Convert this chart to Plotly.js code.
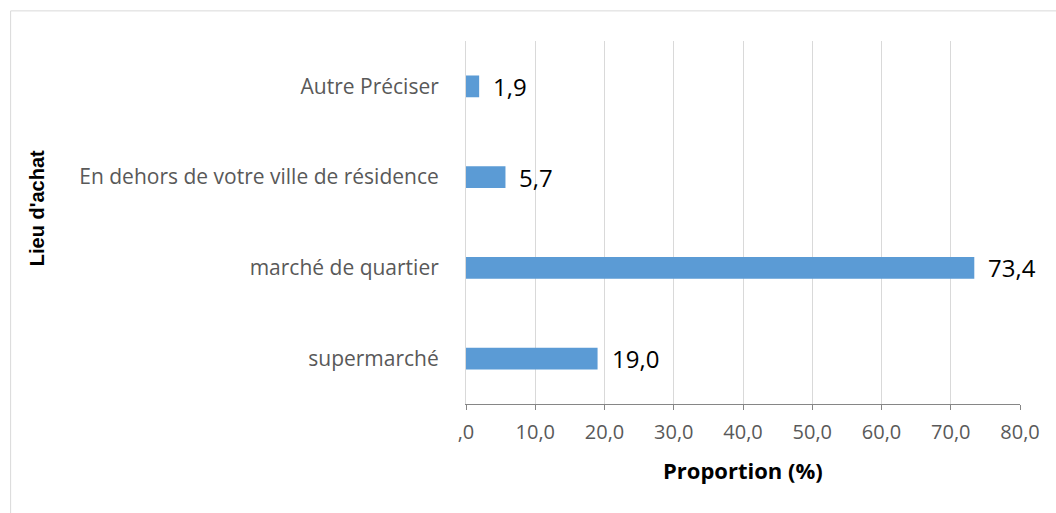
<!DOCTYPE html>
<html>
<head>
<meta charset="utf-8">
<script src="https://cdn.plot.ly/plotly-3.0.1.min.js"></script>
<style>
  body { margin: 0; background: #fff; }
  #myDiv { width: 1056px; height: 513px; }
</style>
</head>
<body>
<div id="myDiv"></div>
<script>
var divId = "myDiv";

// bottom to top, as in the reference
var lieux = ["supermarché", "marché de quartier", "En dehors de votre ville de résidence", "Autre Préciser"];
var proportions = [19.0, 73.4, 5.7, 1.9];
var tickVals = [0, 10, 20, 30, 40, 50, 60, 70, 80];
var tickLabels = [",0", "10,0", "20,0", "30,0", "40,0", "50,0", "60,0", "70,0", "80,0"];

var data = [
  {
    type: "bar",
    orientation: "h",
    y: lieux,
    x: proportions,
    width: 0.24,
    marker: { color: "#5b9bd5" },
    hoverinfo: "x+y"
  }
];

// value labels next to each bar
var labels = lieux.map(function (l, i) {
  return {
    x: proportions[i],
    y: l,
    xref: "x",
    yref: "y",
    text: proportions[i].toFixed(1).replace(".", ","),
    showarrow: false,
    xanchor: "left",
    xshift: 12,
    font: { family: "Open Sans, sans-serif", size: 24, color: "#000" }
  };
});

var layouts = {
  width: 1056,
  height: 513,
  paper_bgcolor: "#fff",
  plot_bgcolor: "#fff",
  showlegend: false,
  margin: { l: 466, r: 36, t: 41, b: 109, pad: 0 },
  font: { family: "Open Sans, sans-serif", color: "#595959" },
  xaxis: {
    range: [0, 80],
    tickvals: tickVals,
    ticktext: tickLabels,
    showgrid: true,
    gridcolor: "#d9d9d9",
    gridwidth: 1,
    zeroline: false,
    showline: true,
    linecolor: "#868686",
    linewidth: 1,
    ticks: "outside",
    ticklen: 5,
    tickcolor: "#868686",
    ticklabelstandoff: 5,
    tickfont: { size: 20, color: "#595959" },
    fixedrange: true
  },
  yaxis: {
    showgrid: false,
    zeroline: false,
    showline: true,
    linecolor: "#d9d9d9",
    ticks: "",
    ticklabelstandoff: 22,
    tickfont: { size: 21, color: "#595959" },
    fixedrange: true
  },
  annotations: labels.concat([
    {
      text: "<b>Proportion (%)</b>",
      xref: "paper", yref: "paper",
      x: 0.5, y: -0.182,
      xanchor: "center", yanchor: "middle",
      showarrow: false,
      font: { family: "Open Sans, sans-serif", size: 22, color: "#000" }
    },
    {
      text: "<b>Lieu d'achat</b>",
      xref: "paper", yref: "paper",
      x: -0.774, y: 0.54,
      textangle: -90,
      xanchor: "center", yanchor: "middle",
      showarrow: false,
      font: { family: "Liberation Sans, Arial, sans-serif", size: 20, color: "#000" }
    }
  ]),
  shapes: [
    {
      type: "rect",
      xref: "paper", yref: "paper",
      x0: -0.822, x1: 1.2,
      y0: -0.5, y1: 1.083,
      line: { color: "#d9d9d9", width: 1 },
      fillcolor: "rgba(0,0,0,0)",
      layer: "below"
    }
  ]
};

var display = {
  displayModeBar: false
};

Plotly.newPlot(divId, data, layouts, display);
</script>
</body>
</html>
